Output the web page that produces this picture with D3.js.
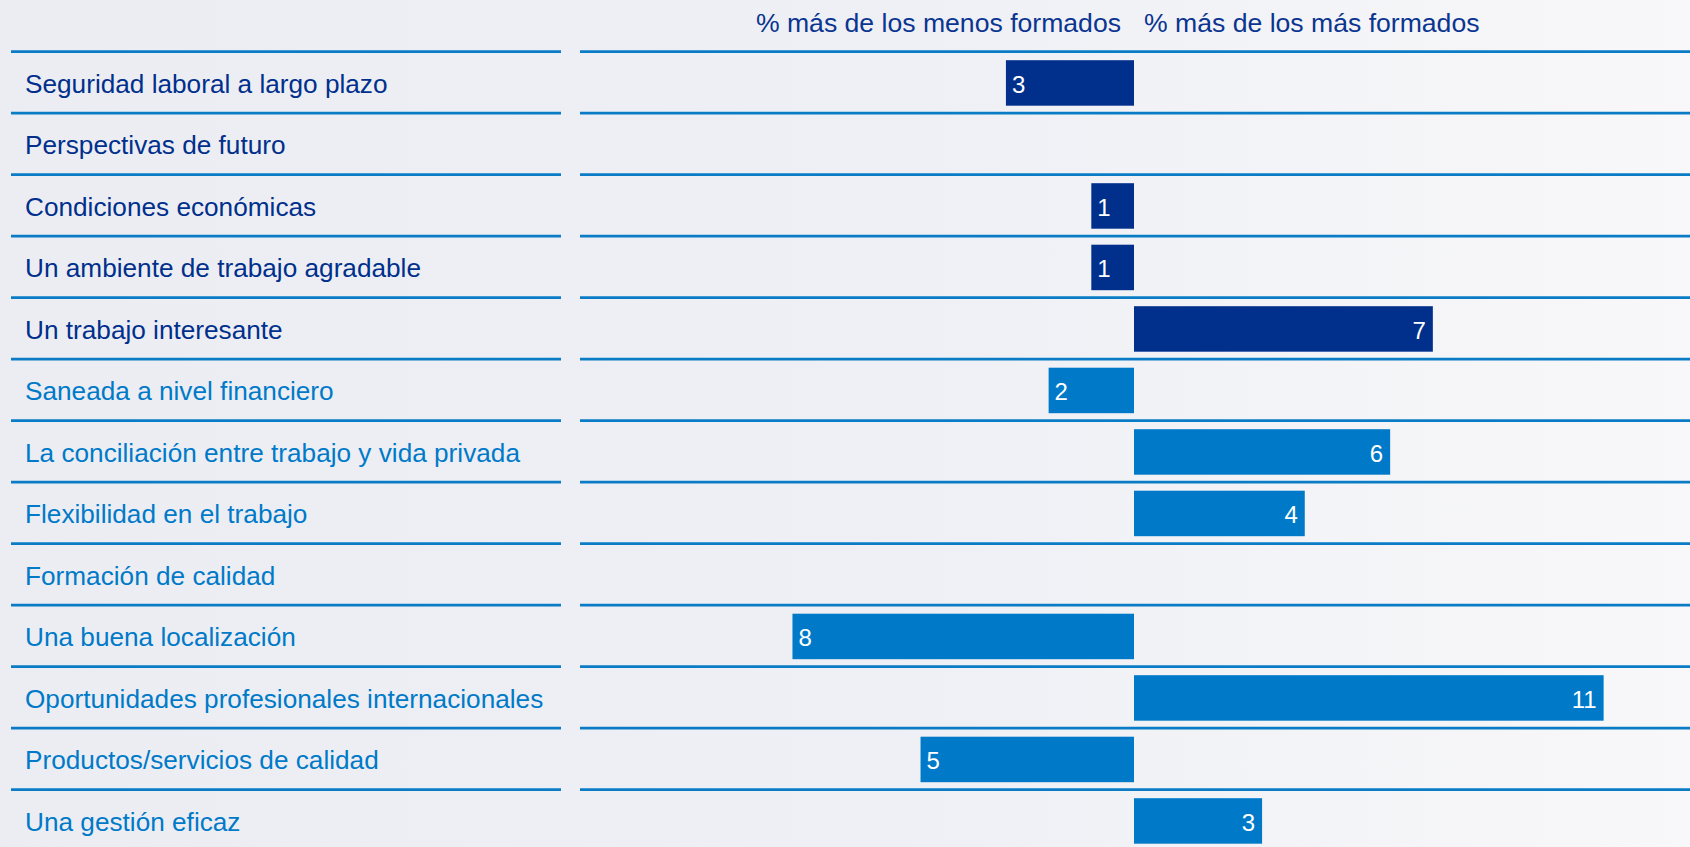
<!DOCTYPE html>
<html>
<head>
<meta charset="utf-8">
<script src="https://cdn.jsdelivr.net/npm/d3@7"></script>
<style>
  html, body { margin: 0; padding: 0; }
  body { width: 1690px; height: 847px; overflow: hidden; }
  svg { display: block; font-family: "Liberation Sans", Arial, sans-serif; }
</style>
</head>
<body>
<svg id="chart" width="1690" height="847"></svg>
<script>
const categories = [
  "Seguridad laboral a largo plazo",
  "Perspectivas de futuro",
  "Condiciones económicas",
  "Un ambiente de trabajo agradable",
  "Un trabajo interesante",
  "Saneada a nivel financiero",
  "La conciliación entre trabajo y vida privada",
  "Flexibilidad en el trabajo",
  "Formación de calidad",
  "Una buena localización",
  "Oportunidades profesionales internacionales",
  "Productos/servicios de calidad",
  "Una gestión eficaz"
];
// negative = % más de los menos formados, positive = % más de los más formados
const values = [-3, 0, -1, -1, 7, -2, 6, 4, 0, -8, 11, -5, 3];
const groups = ["empleado", "empleado", "empleado", "empleado", "empleado",
                "empresa", "empresa", "empresa", "empresa", "empresa", "empresa", "empresa", "empresa"];
const headerLeft = "% más de los menos formados";
const headerRight = "% más de los más formados";

const colors = { empleado: "#00308c", empresa: "#007ac8" };
const lineColor = "#0a7cc6";

const svg = d3.select("#chart");
const W = 1690, H = 847;

const defs = svg.append("defs");
const grad = defs.append("linearGradient").attr("id", "bg").attr("x1", "0").attr("x2", "1").attr("y1", "0").attr("y2", "0");
grad.append("stop").attr("offset", "0").attr("stop-color", "#ecedf3");
grad.append("stop").attr("offset", "0.55").attr("stop-color", "#eff0f5");
grad.append("stop").attr("offset", "1").attr("stop-color", "#f8f8fa");
svg.append("rect").attr("width", W).attr("height", H).attr("fill", "url(#bg)");

const rowH = 61.5;
const topY = 51.7;
const y = d3.scaleBand().domain(categories).range([topY, topY + rowH * categories.length]).paddingInner(0).paddingOuter(0);
const x = d3.scaleLinear().domain([-13, 13]).range([579, 1689]);

// row lines
svg.append("g").selectAll("line").data(categories).join("line")
  .attr("x1", 11).attr("x2", 561)
  .attr("y1", d => y(d)).attr("y2", d => y(d))
  .attr("stroke", lineColor).attr("stroke-width", 2.8);
svg.append("g").selectAll("line").data(categories).join("line")
  .attr("x1", 580).attr("x2", W)
  .attr("y1", d => y(d)).attr("y2", d => y(d))
  .attr("stroke", lineColor).attr("stroke-width", 2.8);

// labels
svg.append("g").selectAll("text").data(categories).join("text")
  .attr("x", 25)
  .attr("y", d => y(d) + y.bandwidth() / 2 + 10.5)
  .attr("font-size", 26.2)
  .attr("fill", (d, i) => colors[groups[i]])
  .text(d => d);

// bars
const barOff = 8.5, barH = 45.5;
const data = categories.map((c, i) => ({ c, v: values[i], g: groups[i] }));
svg.append("g").selectAll("rect").data(data.filter(d => d.v !== 0)).join("rect")
  .attr("x", d => x(Math.min(0, d.v)))
  .attr("width", d => Math.abs(x(d.v) - x(0)))
  .attr("y", d => y(d.c) + barOff)
  .attr("height", barH)
  .attr("fill", d => colors[d.g]);

svg.append("g").selectAll("text").data(data.filter(d => d.v !== 0)).join("text")
  .attr("x", d => d.v < 0 ? x(d.v) + 6 : x(d.v) - 7)
  .attr("text-anchor", d => d.v < 0 ? "start" : "end")
  .attr("y", d => y(d.c) + barOff + barH / 2 + 10)
  .attr("font-size", 24)
  .attr("fill", "#ffffff")
  .text(d => Math.abs(d.v));

// headers
svg.append("text").attr("x", x(0) - 13).attr("y", 32).attr("text-anchor", "end")
  .attr("font-size", 26.6).attr("fill", "#0a3590").text(headerLeft);
svg.append("text").attr("x", x(0) + 10).attr("y", 32).attr("text-anchor", "start")
  .attr("font-size", 26.6).attr("fill", "#0a3590").text(headerRight);
</script>
</body>
</html>
